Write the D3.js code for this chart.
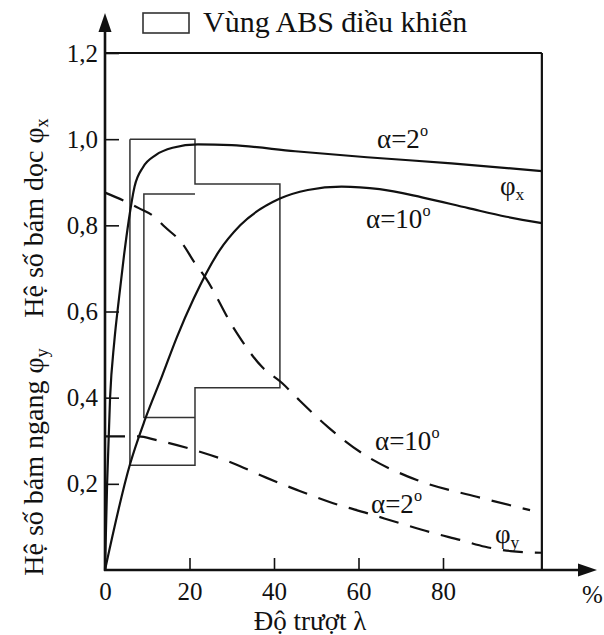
<!DOCTYPE html>
<html><head><meta charset="utf-8">
<script src="https://cdn.jsdelivr.net/npm/d3@7"></script>
<style>
body{margin:0;background:#fff}
svg text{font-family:"Liberation Serif","Times New Roman",serif;fill:#111}
</style>
</head><body>
<svg id="chart" width="604" height="635"></svg>
<script>
// ---- data ----
const xTicks = [0, 20, 40, 60, 80];
const xTickLabels = ["0", "20", "40", "60", "80"];
const yTicks = [0.2, 0.4, 0.6, 0.8, 1.0, 1.2];
const yTickLabels = ["0,2", "0,4", "0,6", "0,8", "1,0", "1,2"];
const xMax = 103.4;

// φx, α = 2°
const slipX2 = [0, 0.5, 1.2, 2.2, 3.3, 4.5, 5.6, 7, 9, 12, 16, 22, 30, 45, 62, 82, 103.4];
const phiX2  = [0, 0.2, 0.4, 0.53, 0.63, 0.73, 0.81, 0.89, 0.935, 0.963, 0.98, 0.988, 0.986, 0.972, 0.958, 0.944, 0.926];
// φx, α = 10°
const slipX10 = [0, 5.9, 9.5, 13.5, 17, 21, 27, 32, 41.4, 48, 56, 65, 75, 86, 95, 103.4];
const phiX10  = [0, 0.245, 0.35, 0.45, 0.54, 0.63, 0.74, 0.8, 0.862, 0.882, 0.89, 0.884, 0.865, 0.84, 0.82, 0.805];
// φy, α = 10°
const slipY10 = [0, 4.7, 8, 11.8, 14.2, 18.2, 21.3, 23.7, 30.3, 37.2, 41.9, 46, 53, 61, 73.8, 88, 100.6];
const phiY10  = [0.876, 0.856, 0.84, 0.819, 0.796, 0.759, 0.712, 0.68, 0.564, 0.471, 0.434, 0.394, 0.33, 0.27, 0.209, 0.17, 0.139];
// φy, α = 2°
const slipY2 = [0, 5, 8, 12, 21.3, 30.3, 38, 45.4, 54, 62, 70, 77.6, 84, 90, 96, 103.4];
const phiY2  = [0.31, 0.31, 0.31, 0.302, 0.278, 0.248, 0.215, 0.186, 0.155, 0.132, 0.108, 0.086, 0.07, 0.054, 0.044, 0.04];

// ABS control region outlines
const absOuterX = [5.9, 21.3, 21.3, 41.4, 41.4, 21.3, 21.3, 5.9, 5.9];
const absOuterY = [1.0, 1.0, 0.896, 0.896, 0.423, 0.423, 0.243, 0.243, 1.0];
const absInnerX = [21.3, 9.2, 9.2, 21.3];
const absInnerY = [0.873, 0.873, 0.354, 0.354];

// ---- drawing ----
const svg = d3.select("#chart");
const x = d3.scaleLinear().domain([0, 100]).range([105, 527.5]);
const y = d3.scaleLinear().domain([0, 1.2]).range([570, 53]);
const X0 = x(0), Y0 = y(0), XR = x(xMax), YT = y(1.2);

const line = d3.line().x(d => x(d[0])).y(d => y(d[1])).curve(d3.curveMonotoneX);
const poly = d3.line().x(d => x(d[0])).y(d => y(d[1]));
const zip = (a, b) => a.map((v, i) => [v, b[i]]);

// ABS boxes
svg.append("path").attr("d", poly(zip(absOuterX, absOuterY)))
  .attr("fill", "none").attr("stroke", "#333").attr("stroke-width", 1.5);
svg.append("path").attr("d", poly(zip(absInnerX, absInnerY)))
  .attr("fill", "none").attr("stroke", "#333").attr("stroke-width", 1.5);

// frame top and right
svg.append("line").attr("x1", X0).attr("x2", XR).attr("y1", YT).attr("y2", YT)
  .attr("stroke", "#111").attr("stroke-width", 2.2);
svg.append("line").attr("x1", XR).attr("x2", XR).attr("y1", YT).attr("y2", Y0)
  .attr("stroke", "#111").attr("stroke-width", 2.2);

// curves
const curves = [
  [slipX2, phiX2, null], [slipX10, phiX10, null],
  [slipY10, phiY10, "20,12"], [slipY2, phiY2, "20,12"]
];
curves.forEach(([sx, sy, dash]) => {
  svg.append("path").attr("d", line(zip(sx, sy)))
    .attr("fill", "none").attr("stroke", "#111").attr("stroke-width", 2.2)
    .attr("stroke-dasharray", dash);
});

// axes
const yAxis = d3.axisLeft(y).tickValues(yTicks).tickFormat((d, i) => yTickLabels[i])
  .tickSizeInner(-14).tickSizeOuter(0).tickPadding(7);
const gy = svg.append("g").attr("transform", `translate(${X0},0)`).call(yAxis);
gy.select(".domain").remove();
gy.selectAll("line").attr("stroke", "#111").attr("stroke-width", 1.6);
gy.selectAll("text").attr("font-size", 25).attr("font-family", "Liberation Serif").attr("fill", "#111");

const xAxis = d3.axisBottom(x).tickValues(xTicks).tickFormat((d, i) => xTickLabels[i])
  .tickSizeInner(-12).tickSizeOuter(0).tickPadding(12);
const gx = svg.append("g").attr("transform", `translate(0,${Y0})`).call(xAxis);
gx.select(".domain").remove();
gx.selectAll("line").attr("stroke", "#111").attr("stroke-width", 1.6);
gx.selectAll("text").attr("font-size", 25).attr("font-family", "Liberation Serif").attr("fill", "#111");

// axis lines with arrows
svg.append("line").attr("x1", X0).attr("x2", X0).attr("y1", Y0 + 1).attr("y2", 30)
  .attr("stroke", "#111").attr("stroke-width", 2.6);
svg.append("path").attr("d", `M${X0},13 L${X0 - 6.5},32 L${X0 + 6.5},32 Z`).attr("fill", "#111");
svg.append("line").attr("x1", X0 - 1).attr("x2", 580).attr("y1", Y0).attr("y2", Y0)
  .attr("stroke", "#111").attr("stroke-width", 2.6);
svg.append("path").attr("d", `M597,${Y0} L578,${Y0 - 6.5} L578,${Y0 + 6.5} Z`).attr("fill", "#111");

// axis titles
svg.append("text").attr("x", 582).attr("y", 603).attr("font-size", 25).text("%");
svg.append("text").attr("x", 310).attr("y", 630).attr("text-anchor", "middle")
  .attr("font-size", 27).text("Độ trượt λ");

function phiLabel(sel, sub) {
  sel.append("tspan").text("φ");
  sel.append("tspan").attr("font-size", "0.65em").attr("dy", "0.3em").text(sub);
}
const t1 = svg.append("text").attr("transform", "translate(43,218) rotate(-90)")
  .attr("text-anchor", "middle").attr("font-size", 28);
t1.append("tspan").text("Hệ số bám dọc ");
phiLabel(t1, "x");
const t2 = svg.append("text").attr("transform", "translate(43,462) rotate(-90)")
  .attr("text-anchor", "middle").attr("font-size", 28);
t2.append("tspan").text("Hệ số bám ngang ");
phiLabel(t2, "y");

// curve labels
function alphaLabel(px, py, val) {
  const t = svg.append("text").attr("x", px).attr("y", py).attr("font-size", 27);
  t.append("tspan").text("α=" + val);
  t.append("tspan").attr("font-size", "0.6em").attr("dy", "-0.75em").text("o");
}
alphaLabel(377, 148, "2");
alphaLabel(366, 228, "10");
alphaLabel(375, 450, "10");
alphaLabel(371, 513, "2");
const px = svg.append("text").attr("x", 500).attr("y", 195).attr("font-size", 27);
phiLabel(px, "x");
const py = svg.append("text").attr("x", 495).attr("y", 543).attr("font-size", 27);
phiLabel(py, "y");

// legend
svg.append("rect").attr("x", 143).attr("y", 13).attr("width", 46).attr("height", 20)
  .attr("fill", "none").attr("stroke", "#333").attr("stroke-width", 1.6);
svg.append("text").attr("x", 203).attr("y", 32).attr("font-size", 30).text("Vùng ABS điều khiển");
</script>
</body></html>
